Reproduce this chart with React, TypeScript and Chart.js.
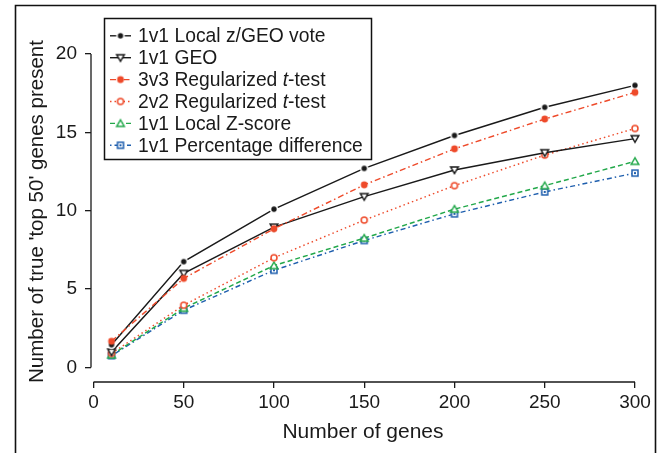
import React, { useEffect, useRef } from "react";
import { Chart, registerables } from "chart.js";

Chart.register(...registerables);

const FONT = "'Liberation Sans', Arial, Helvetica, sans-serif";
const INK = "#1a1a1a";

const geneCounts = [10, 50, 100, 150, 200, 250, 300];
const localZGeoVote = [1.45, 6.75, 10.1, 12.7, 14.8, 16.6, 18.0];
const geoOnly = [0.98, 6.0, 8.95, 10.9, 12.6, 13.7, 14.6];
const reg3v3 = [1.67, 5.68, 8.85, 11.65, 13.95, 15.85, 17.55];
const reg2v2 = [0.9, 3.97, 7.0, 9.4, 11.6, 13.55, 15.25];
const localZScore = [0.8, 3.78, 6.5, 8.25, 10.1, 11.6, 13.15];
const pctDifference = [0.75, 3.65, 6.2, 8.1, 9.8, 11.2, 12.4];

const seriesLabels = [
  "1v1 Local z/GEO vote",
  "1v1 GEO",
  "3v3 Regularized t-test",
  "2v2 Regularized t-test",
  "1v1 Local Z-score",
  "1v1 Percentage difference",
];

const xTicks = [0, 50, 100, 150, 200, 250, 300];
const yTicks = [0, 5, 10, 15, 20];
const xTitle = "Number of genes";
const yTitle = "Number of true 'top 50' genes present";

const RED = "#ee4a2a";
const GREEN = "#22a84a";
const BLUE = "#1f5fae";

function makeMarker(kind: string): HTMLCanvasElement {
  const s = 16;
  const c = document.createElement("canvas");
  c.width = s;
  c.height = s;
  const g = c.getContext("2d")!;
  const m = s / 2;
  g.lineWidth = 1.5;
  if (kind === "dot") {
    g.fillStyle = "#fff";
    g.beginPath();
    g.arc(m, m, 4.3, 0, Math.PI * 2);
    g.fill();
    g.fillStyle = INK;
    g.beginPath();
    g.arc(m, m, 2.7, 0, Math.PI * 2);
    g.fill();
  } else if (kind === "tridown") {
    g.fillStyle = "#fff";
    g.strokeStyle = INK;
    g.beginPath();
    g.moveTo(m - 3.8, m - 3);
    g.lineTo(m + 3.8, m - 3);
    g.lineTo(m, m + 3.6);
    g.closePath();
    g.fill();
    g.stroke();
  } else if (kind === "redfill") {
    g.fillStyle = RED;
    g.beginPath();
    g.arc(m, m, 3.4, 0, Math.PI * 2);
    g.fill();
  } else if (kind === "redopen") {
    g.fillStyle = "#fff";
    g.strokeStyle = RED;
    g.beginPath();
    g.arc(m, m, 3, 0, Math.PI * 2);
    g.fill();
    g.stroke();
  } else if (kind === "triup") {
    g.fillStyle = "#fff";
    g.strokeStyle = GREEN;
    g.beginPath();
    g.moveTo(m - 3.8, m + 3);
    g.lineTo(m + 3.8, m + 3);
    g.lineTo(m, m - 3.6);
    g.closePath();
    g.fill();
    g.stroke();
  } else if (kind === "square") {
    g.fillStyle = "#fff";
    g.strokeStyle = BLUE;
    g.fillRect(m - 3, m - 3, 6, 6);
    g.strokeRect(m - 3, m - 3, 6, 6);
    g.fillStyle = BLUE;
    g.fillRect(m - 1, m - 1, 2, 2);
  }
  return c;
}

export default function App() {
  const ref = useRef<HTMLCanvasElement>(null);

  useEffect(() => {
    const canvas = ref.current!;
    const markers = ["dot", "tridown", "redfill", "redopen", "triup", "square"].map(makeMarker);
    const values = [localZGeoVote, geoOnly, reg3v3, reg2v2, localZScore, pctDifference];
    const colors = [INK, INK, RED, RED, GREEN, BLUE];
    const dashes = [[], [], [6, 3, 1.5, 3], [1.5, 3], [5, 3], [1.5, 3, 5, 3]];
    const orders = [0, 0, -1, 0, 0, 0];

    const datasets = seriesLabels.map((label, i) => ({
      label,
      data: geneCounts.map((x, j) => ({ x, y: values[i][j] })),
      borderColor: colors[i],
      backgroundColor: colors[i],
      borderWidth: 1.45,
      borderDash: dashes[i],
      pointStyle: markers[i] as any,
      pointRadius: 4,
      tension: 0,
      clip: 12,
      order: orders[i],
    }));

    const framePlugin = {
      id: "frameAndAxes",
      afterDraw(chart: any) {
        const ctx = chart.ctx;
        const xs = chart.scales.x;
        const ys = chart.scales.y;
        const area = chart.chartArea;
        ctx.save();
        ctx.strokeStyle = "#111";
        ctx.lineWidth = 1.6;
        ctx.beginPath();
        ctx.moveTo(15.5, 460);
        ctx.lineTo(15.5, 5.5);
        ctx.lineTo(655.5, 5.5);
        ctx.lineTo(655.5, 460);
        ctx.stroke();
        ctx.strokeStyle = INK;
        ctx.lineWidth = 1.3;
        ctx.beginPath();
        ctx.moveTo(xs.getPixelForValue(xTicks[0]), area.bottom);
        ctx.lineTo(xs.getPixelForValue(xTicks[xTicks.length - 1]), area.bottom);
        ctx.moveTo(area.left, ys.getPixelForValue(yTicks[0]));
        ctx.lineTo(area.left, ys.getPixelForValue(yTicks[yTicks.length - 1]));
        ctx.stroke();

        const bx = 104.5, by = 18.5, bw = 267, bh = 141;
        ctx.fillStyle = "#fff";
        ctx.fillRect(bx, by, bw, bh);
        ctx.strokeStyle = "#111";
        ctx.lineWidth = 1.5;
        ctx.strokeRect(bx, by, bw, bh);
        const fs = 19.3;
        seriesLabels.forEach((label, i) => {
          const ds = chart.data.datasets[i];
          const cy = 35.8 + i * 21.9;
          ctx.strokeStyle = ds.borderColor;
          ctx.lineWidth = 1.4;
          ctx.setLineDash(ds.borderDash || []);
          ctx.beginPath();
          ctx.moveTo(110, cy);
          ctx.lineTo(131, cy);
          ctx.stroke();
          ctx.setLineDash([]);
          const img = ds.pointStyle as HTMLCanvasElement;
          ctx.drawImage(img, 120.5 - img.width / 2, cy - img.height / 2);
          ctx.fillStyle = INK;
          ctx.textBaseline = "middle";
          ctx.textAlign = "left";
          const m = label.match(/^(.*\s)(t)(-test)$/);
          let tx = 138;
          const normal = `${fs}px ${FONT}`;
          const italic = `italic ${fs}px ${FONT}`;
          if (m) {
            const parts: [string, string][] = [[m[1], normal], [m[2], italic], [m[3], normal]];
            parts.forEach(([t, f]) => {
              ctx.font = f;
              ctx.fillText(t, tx, cy + 1);
              tx += ctx.measureText(t).width;
            });
          } else {
            ctx.font = normal;
            ctx.fillText(label, tx, cy + 1);
          }
        });
        ctx.restore();
      },
    };

    const chart = new Chart(canvas, {
      type: "line",
      data: { datasets },
      options: {
        responsive: false,
        animation: false,
        devicePixelRatio: 1,
        layout: { padding: { top: 41, right: 22, bottom: 0, left: 0 } },
        plugins: {
          legend: { display: false },
          tooltip: { enabled: false },
        },
        scales: {
          x: {
            type: "linear",
            min: -1.385,
            max: 300,
            afterBuildTicks: (axis: any) => {
              axis.ticks = xTicks.map((v) => ({ value: v }));
            },
            afterFit: (s: any) => {
              s.height = 71;
            },
            border: { display: false },
            grid: { display: true, drawOnChartArea: false, drawTicks: true, tickLength: 6, color: INK, lineWidth: 1.3 },
            ticks: { color: INK, font: { family: FONT, size: 19 }, padding: 3, maxRotation: 0, autoSkip: false },
            title: { display: true, text: xTitle, color: INK, font: { family: FONT, size: 21 }, padding: { top: 0, bottom: 8 } },
          },
          y: {
            type: "linear",
            min: -0.93,
            max: 20.83,
            afterBuildTicks: (axis: any) => {
              axis.ticks = yTicks.map((v) => ({ value: v }));
            },
            afterFit: (s: any) => {
              s.width = 91;
            },
            border: { display: false },
            grid: { display: true, drawOnChartArea: false, drawTicks: true, tickLength: 6, color: INK, lineWidth: 1.3 },
            ticks: { color: INK, font: { family: FONT, size: 19 }, padding: 8, autoSkip: false },
            title: { display: true, text: yTitle, color: INK, font: { family: FONT, size: 20.5 }, padding: { top: 25, bottom: 0 } },
          },
        },
      },
      plugins: [framePlugin],
    });
    return () => chart.destroy();
  }, []);

  return (
    <div style={{ position: "fixed", left: 0, top: 0, width: 657, height: 453, background: "#fff" }}>
      <canvas ref={ref} width={657} height={453} style={{ display: "block", width: 657, height: 453 }} />
    </div>
  );
}
